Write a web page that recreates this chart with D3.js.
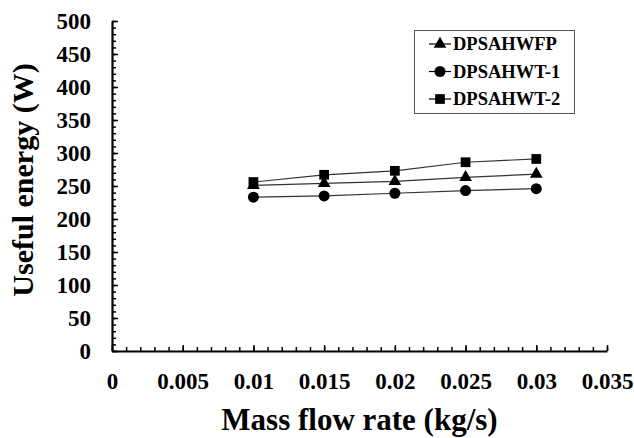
<!DOCTYPE html>
<head>
    <meta charset='utf-8'>
    <title>Useful energy vs mass flow rate</title>
    <script src='https://d3js.org/d3.v7.min.js'></script>
    <style>
        html, body {
            margin: 0px;
            padding: 0px;
            background: white;
        }
        svg {
            display: block;
        }
        text {
            font-family: 'Liberation Serif', 'Times New Roman', serif;
            font-weight: bold;
        }
    </style>
</head>

<body>
    <div id='chart'></div>

    <script>
        // mass flow rate (kg/s)
        var flowRates = [0.01, 0.015, 0.02, 0.025, 0.03];
        // useful energy (W) per configuration
        var wfp = [251, 254, 257, 263, 268];
        var wt1 = [233, 235, 239, 243, 246];
        var wt2 = [256, 267, 273, 286, 291];

        var seriesNames = ['DPSAHWFP', 'DPSAHWT-1', 'DPSAHWT-2'];
        var seriesShapes = [d3.symbolTriangle, d3.symbolCircle, d3.symbolSquare];
        var seriesValues = [wfp, wt1, wt2];

        var xTicks = [0, 0.005, 0.01, 0.015, 0.02, 0.025, 0.03, 0.035];
        var yTicks = [0, 50, 100, 150, 200, 250, 300, 350, 400, 450, 500];

        var width = 634, height = 438;
        var margin = {top: 21, right: 27, bottom: 87, left: 112};

        var svg = d3.select('#chart').append('svg')
            .attr('width', width)
            .attr('height', height);

        var x = d3.scaleLinear().domain([0, 0.035]).range([margin.left, width - margin.right]);
        var y = d3.scaleLinear().domain([0, 500]).range([height - margin.bottom, margin.top]);

        // minor ticks first, majors drawn over them
        var xMinor = d3.range(0, 36).map(function(i) { return i * 0.001; });
        var yMinor = d3.range(0, 51).map(function(i) { return i * 10; });

        svg.append('g')
            .attr('transform', 'translate(0,' + y(0) + ')')
            .call(d3.axisTop(x).tickValues(xMinor).tickSize(4).tickFormat(''))
            .call(function(g) { g.select('.domain').remove(); })
            .selectAll('line').attr('stroke-width', 1.5);

        svg.append('g')
            .attr('transform', 'translate(' + x(0) + ',0)')
            .call(d3.axisRight(y).tickValues(yMinor).tickSize(4).tickFormat(''))
            .call(function(g) { g.select('.domain').remove(); })
            .selectAll('line').attr('stroke-width', 1.5);

        var xAxis = svg.append('g')
            .attr('transform', 'translate(0,' + y(0) + ')')
            .call(d3.axisTop(x).tickValues(xTicks).tickSize(6).tickSizeOuter(0).tickFormat(d3.format('')));
        xAxis.select('.domain').attr('stroke-width', 2.2);
        xAxis.selectAll('line').attr('stroke-width', 1.5);
        xAxis.selectAll('text')
            .attr('y', 38)
            .attr('dy', 0)
            .attr('font-size', 23)
            .attr('fill', '#000');

        var yAxis = svg.append('g')
            .attr('transform', 'translate(' + x(0) + ',0)')
            .call(d3.axisRight(y).tickValues(yTicks).tickSize(6).tickSizeOuter(0));
        yAxis.select('.domain').attr('stroke-width', 2.2);
        yAxis.selectAll('line').attr('stroke-width', 1.5);
        yAxis.selectAll('text')
            .attr('x', -21)
            .attr('dy', '0.34em')
            .attr('text-anchor', 'end')
            .attr('font-size', 23)
            .attr('fill', '#000');

        // axis titles
        svg.append('text')
            .attr('x', (x(0) + x(0.035)) / 2)
            .attr('y', 430)
            .attr('text-anchor', 'middle')
            .attr('font-size', 31)
            .text('Mass flow rate (kg/s)');

        svg.append('text')
            .attr('transform', 'translate(33,180) rotate(-90)')
            .attr('text-anchor', 'middle')
            .attr('font-size', 30)
            .text('Useful energy (W)');

        // series lines and markers
        var line = d3.line()
            .x(function(d, i) { return x(flowRates[i]); })
            .y(function(d) { return y(d); });

        seriesValues.forEach(function(vals, s) {
            svg.append('path')
                .attr('d', line(vals))
                .attr('fill', 'none')
                .attr('stroke', '#333')
                .attr('stroke-width', 1.2);
        });

        seriesValues.forEach(function(vals, s) {
            var sym = d3.symbol().type(seriesShapes[s]).size(s === 0 ? 70 : 95);
            svg.selectAll('.m' + s)
                .data(vals)
                .enter()
                .append('path')
                .attr('class', 'm' + s)
                .attr('d', sym)
                .attr('transform', function(d, i) {
                    return 'translate(' + x(flowRates[i]) + ',' + y(d) + ')';
                })
                .attr('fill', '#000');
        });

        // legend
        var legend = svg.append('g');
        legend.append('rect')
            .attr('x', 414.5)
            .attr('y', 30.5)
            .attr('width', 160)
            .attr('height', 83)
            .attr('fill', 'white')
            .attr('stroke', '#555')
            .attr('stroke-width', 1);

        seriesNames.forEach(function(name, s) {
            var ly = 44 + s * 27.5;
            legend.append('line')
                .attr('x1', 429).attr('x2', 451)
                .attr('y1', ly).attr('y2', ly)
                .attr('stroke', '#000')
                .attr('stroke-width', 1.2);
            legend.append('path')
                .attr('d', d3.symbol().type(seriesShapes[s]).size(s === 0 ? 70 : 95))
                .attr('transform', 'translate(440,' + ly + ')')
                .attr('fill', '#000');
            legend.append('text')
                .attr('x', 453)
                .attr('y', ly)
                .attr('dy', '0.35em')
                .attr('font-size', 18.5)
                .text(name);
        });
    </script>
</body>
